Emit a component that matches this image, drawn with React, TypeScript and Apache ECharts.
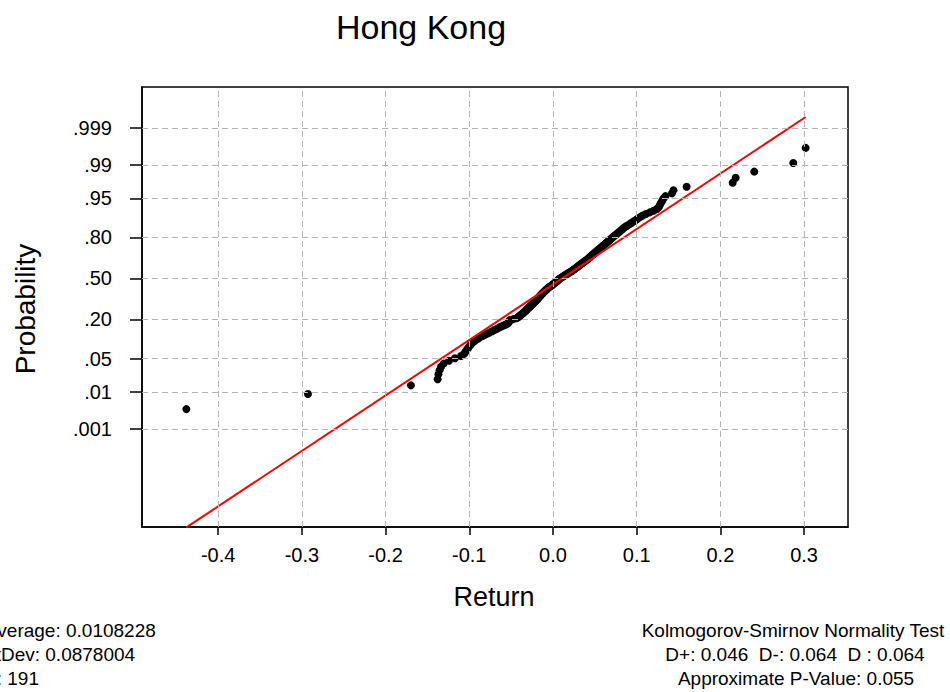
import React, { useEffect, useRef } from "react";
import * as echarts from "echarts";

const chartTitle = "Hong Kong";
const xAxisTitle = "Return";
const yAxisTitle = "Probability";

const xTicks = [-0.4, -0.3, -0.2, -0.1, 0, 0.1, 0.2, 0.3];
const probTicks = [0.001, 0.01, 0.05, 0.2, 0.5, 0.8, 0.95, 0.99, 0.999];
const probTickLabels = [".001", ".01", ".05", ".20", ".50", ".80", ".95", ".99", ".999"];

// Sorted returns (ascending)
const returns = [
  -0.4380, -0.2927, -0.1697, -0.1378, -0.1368, -0.1355, -0.1338, -0.1306, -0.1243, -0.1171,
  -0.1099, -0.1061, -0.1045, -0.1029, -0.1013, -0.0998, -0.0983, -0.0969, -0.0945, -0.0921,
  -0.0900, -0.0872, -0.0841, -0.0812, -0.0783, -0.0754, -0.0725, -0.0699, -0.0674, -0.0648,
  -0.0624, -0.0596, -0.0571, -0.0546, -0.0532, -0.0526, -0.0520, -0.0514, -0.0472, -0.0432,
  -0.0418, -0.0405, -0.0393, -0.0380, -0.0368, -0.0356, -0.0344, -0.0335, -0.0324, -0.0315,
  -0.0306, -0.0296, -0.0287, -0.0278, -0.0268, -0.0258, -0.0250, -0.0240, -0.0232, -0.0223,
  -0.0215, -0.0207, -0.0198, -0.0190, -0.0184, -0.0177, -0.0170, -0.0162, -0.0155, -0.0148,
  -0.0141, -0.0134, -0.0125, -0.0118, -0.0110, -0.0102, -0.0093, -0.0085, -0.0076, -0.0068,
  -0.0060, -0.0051, -0.0043, -0.0025, -0.0017, -0.0007, 0.0002, 0.0012, 0.0022, 0.0031,
  0.0041, 0.0050, 0.0057, 0.0065, 0.0074, 0.0081, 0.0096, 0.0108, 0.0120, 0.0131,
  0.0143, 0.0155, 0.0168, 0.0179, 0.0191, 0.0204, 0.0217, 0.0229, 0.0240, 0.0251,
  0.0260, 0.0271, 0.0282, 0.0292, 0.0302, 0.0312, 0.0323, 0.0332, 0.0343, 0.0354,
  0.0364, 0.0376, 0.0386, 0.0399, 0.0410, 0.0420, 0.0429, 0.0436, 0.0447, 0.0456,
  0.0466, 0.0476, 0.0485, 0.0495, 0.0505, 0.0515, 0.0526, 0.0535, 0.0547, 0.0557,
  0.0570, 0.0581, 0.0590, 0.0603, 0.0614, 0.0625, 0.0636, 0.0648, 0.0660, 0.0670,
  0.0682, 0.0694, 0.0706, 0.0718, 0.0732, 0.0745, 0.0759, 0.0773, 0.0787, 0.0802,
  0.0817, 0.0832, 0.0845, 0.0864, 0.0884, 0.0906, 0.0927, 0.0950, 0.0974, 0.0996,
  0.1020, 0.1045, 0.1072, 0.1111, 0.1158, 0.1203, 0.1241, 0.1265, 0.1276, 0.1288,
  0.1304, 0.1318, 0.1344, 0.1422, 0.1440, 0.1597, 0.2147, 0.2183, 0.2405, 0.2871,
  0.3019,
];

const average = 0.0108228;
const stDev = 0.0878004;
const sampleSize = 191;
const dPlus = "0.046";
const dMinus = "0.064";
const dStat = "0.064";
const pValue = "0.055";

const FONT = "'Liberation Sans', Arial, Helvetica, sans-serif";

// Inverse of the standard normal CDF (Acklam's rational approximation)
function probit(p: number): number {
  const a = [-3.969683028665376e1, 2.209460984245205e2, -2.759285104469687e2, 1.38357751867269e2, -3.066479806614716e1, 2.506628277459239];
  const b = [-5.447609879822406e1, 1.615858368580409e2, -1.556989798598866e2, 6.680131188771972e1, -1.328068155288572e1];
  const c = [-7.784894002430293e-3, -3.223964580411365e-1, -2.400758277161838, -2.549732539343734, 4.374664141464968, 2.938163982698783];
  const d = [7.784695709041462e-3, 3.224671290700398e-1, 2.445134137142996, 3.754408661907416];
  const pLow = 0.02425;
  if (p < pLow) {
    const q = Math.sqrt(-2 * Math.log(p));
    return (((((c[0] * q + c[1]) * q + c[2]) * q + c[3]) * q + c[4]) * q + c[5]) /
      ((((d[0] * q + d[1]) * q + d[2]) * q + d[3]) * q + 1);
  }
  if (p <= 1 - pLow) {
    const q = p - 0.5;
    const r = q * q;
    return ((((((a[0] * r + a[1]) * r + a[2]) * r + a[3]) * r + a[4]) * r + a[5]) * q) /
      (((((b[0] * r + b[1]) * r + b[2]) * r + b[3]) * r + b[4]) * r + 1);
  }
  const q = Math.sqrt(-2 * Math.log(1 - p));
  return -(((((c[0] * q + c[1]) * q + c[2]) * q + c[3]) * q + c[4]) * q + c[5]) /
    ((((d[0] * q + d[1]) * q + d[2]) * q + d[3]) * q + 1);
}

export default function App() {
  const ref = useRef<HTMLDivElement>(null);

  useEffect(() => {
    if (!ref.current) return;
    const chart = echarts.init(ref.current, undefined, { renderer: "svg" });

    const n = returns.length;
    // median-rank plotting positions, shown on a normal-score axis
    const points = returns.map((x, i) => [x, probit((i + 1 - 0.3) / (n + 0.4))]);
    const yTickValues = probTicks.map(probit);

    const xMin = returns[0];
    const xMax = returns[n - 1];
    const fitLine = [
      [xMin, (xMin - average) / stDev],
      [xMax, (xMax - average) / stDev],
    ];

    const labelFor = (v: number) => {
      let best = 0;
      yTickValues.forEach((t, i) => {
        if (Math.abs(t - v) < Math.abs(yTickValues[best] - v)) best = i;
      });
      return probTickLabels[best];
    };

    const statText = { fontSize: 19, fontFamily: FONT, fill: "#000" };

    chart.setOption({
      animation: false,
      backgroundColor: "#fff",
      grid: {
        left: 142,
        top: 87,
        width: 706,
        height: 440,
        show: true,
        borderColor: "#000",
        borderWidth: 1.5,
        backgroundColor: "#fff",
      },
      xAxis: {
        type: "value",
        min: -0.491,
        max: 0.3525,
        axisLine: { show: true, onZero: false, lineStyle: { color: "#000", width: 1.5 } },
        axisTick: { show: true, length: 8, customValues: xTicks, lineStyle: { color: "#000", width: 1.5 } },
        axisLabel: {
          customValues: xTicks,
          margin: 18,
          fontSize: 20,
          fontFamily: FONT,
          color: "#000",
          formatter: (v: number) => v.toFixed(1),
        },
        splitLine: { show: false },
      },
      yAxis: {
        type: "value",
        min: -5.103,
        max: 3.932,
        axisLine: { show: true, onZero: false, lineStyle: { color: "#000", width: 1.5 } },
        axisTick: { show: true, length: 12, customValues: yTickValues, lineStyle: { color: "#000", width: 1.5 } },
        axisLabel: {
          customValues: yTickValues,
          margin: 30,
          fontSize: 20,
          fontFamily: FONT,
          color: "#000",
          formatter: (v: number) => labelFor(v),
        },
        splitLine: { show: false },
      },
      series: [
        {
          type: "line",
          z: 1,
          silent: true,
          data: [[xTicks[0], 0]],
          showSymbol: false,
          symbol: "none",
          lineStyle: { opacity: 0 },
          markLine: {
            silent: true,
            symbol: ["none", "none"],
            label: { show: false },
            lineStyle: { type: [6, 4], color: "#b4b4b4", width: 1 },
            data: [
              ...yTickValues.map((z) => ({ yAxis: z })),
              ...xTicks.map((x) => ({ xAxis: x })),
            ],
          },
        },
        {
          type: "scatter",
          z: 3,
          data: points,
          symbol: "circle",
          symbolSize: 8,
          itemStyle: { color: "#000", opacity: 1 },
        },
        {
          type: "line",
          z: 4,
          data: fitLine,
          showSymbol: false,
          symbol: "none",
          lineStyle: { color: "#ff0000", width: 2 },
        },
      ],
      graphic: [
        {
          type: "text",
          x: 421,
          y: 27,
          style: { text: chartTitle, fontSize: 34, fontFamily: FONT, fill: "#000", align: "center", verticalAlign: "middle" },
        },
        {
          type: "text",
          x: 25,
          y: 309,
          rotation: Math.PI / 2,
          style: { text: yAxisTitle, fontSize: 28, fontFamily: FONT, fill: "#000", align: "center", verticalAlign: "middle" },
        },
        {
          type: "text",
          x: 494,
          y: 597,
          style: { text: xAxisTitle, fontSize: 27, fontFamily: FONT, fill: "#000", align: "center", verticalAlign: "middle" },
        },
        {
          type: "text",
          x: -15,
          y: 630,
          style: { ...statText, text: `Average: ${average}`, align: "left", verticalAlign: "middle" },
        },
        {
          type: "text",
          x: -17,
          y: 654,
          style: { ...statText, text: `StDev: ${stDev}`, align: "left", verticalAlign: "middle" },
        },
        {
          type: "text",
          x: -17,
          y: 678,
          style: { ...statText, text: `N: ${sampleSize}`, align: "left", verticalAlign: "middle" },
        },
        {
          type: "text",
          x: 793,
          y: 630,
          style: { ...statText, text: "Kolmogorov-Smirnov Normality Test", align: "center", verticalAlign: "middle" },
        },
        {
          type: "text",
          x: 795,
          y: 654,
          style: { ...statText, text: `D+: ${dPlus}  D-: ${dMinus}  D : ${dStat}`, align: "center", verticalAlign: "middle" },
        },
        {
          type: "text",
          x: 796,
          y: 678,
          style: { ...statText, text: `Approximate P-Value: ${pValue}`, align: "center", verticalAlign: "middle" },
        },
      ],
    });

    return () => chart.dispose();
  }, []);

  return (
    <div
      ref={ref}
      style={{ position: "absolute", left: 0, top: 0, width: 950, height: 692 }}
    />
  );
}
